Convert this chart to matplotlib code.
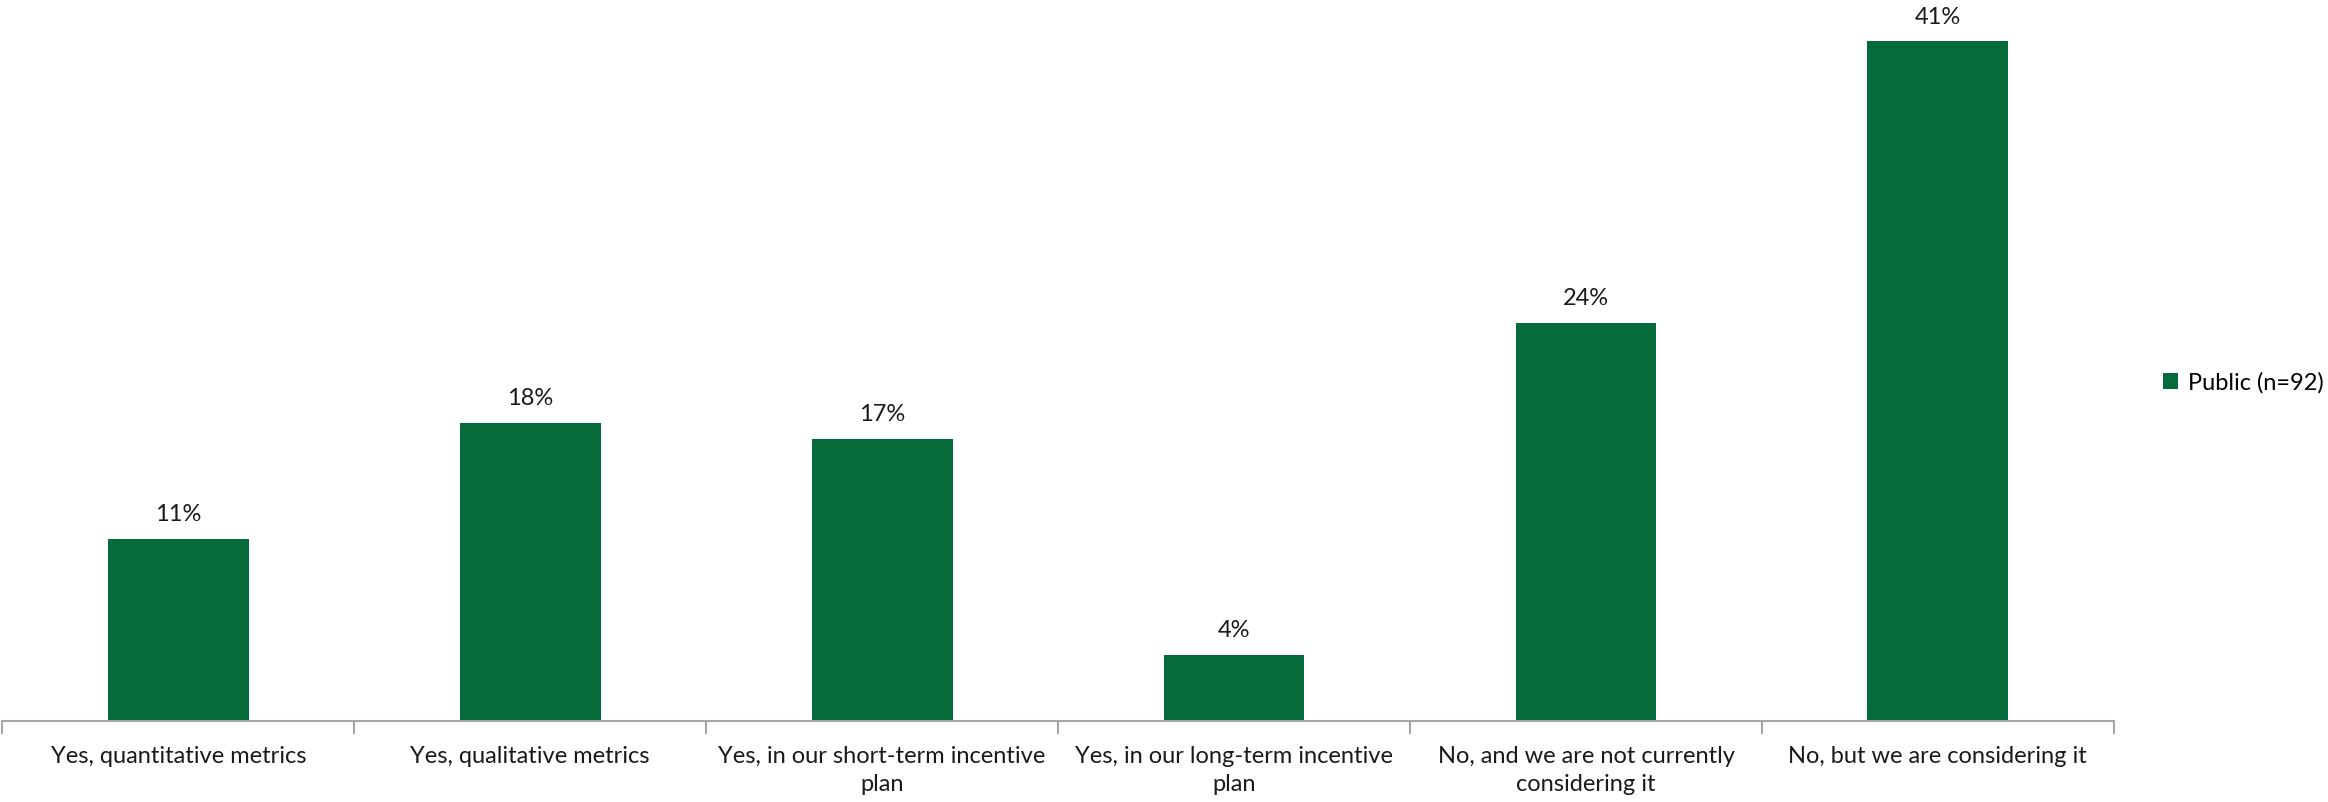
import matplotlib.pyplot as plt
import numpy as np

plt.rcParams['font.family'] = ['Lato', 'DejaVu Sans']

# survey answers and share of public companies
categories = [
    "Yes, quantitative metrics",
    "Yes, qualitative metrics",
    "Yes, in our short-term incentive\nplan",
    "Yes, in our long-term incentive\nplan",
    "No, and we are not currently\nconsidering it",
    "No, but we are considering it",
]
public_pct = [11, 18, 17, 4, 24, 41]
series_name = "Public (n=92)"

green = "#066b3a"
gray = "#a6a6a6"

fig = plt.figure(figsize=(23.28, 8.02), dpi=100)
ax = fig.add_axes([0.001, 0.101, 0.907, 0.899])

x = np.arange(len(categories))
bars = ax.bar(x, public_pct, width=0.4, color=green, label=series_name)

for xi, v in zip(x, public_pct):
    ax.annotate(f"{v}%", (xi, v), xytext=(0, 10), textcoords="offset points",
                ha="center", va="bottom", fontsize=17, color="#1a1a1a",
                annotation_clip=False)

ax.set_xlim(-0.5, len(categories) - 0.5)
ax.set_ylim(0, 43.5)
ax.set_yticks([])

# category labels centred, tick marks between categories
ax.set_xticks(x)
ax.set_xticklabels(categories, fontsize=17, color="#1a1a1a", linespacing=1.4)
ax.tick_params(axis="x", which="major", length=0, pad=18)
ax.set_xticks(np.arange(-0.5, len(categories)), minor=True)
ax.tick_params(axis="x", which="minor", length=9, width=1.5, color=gray, direction="out")

for side in ["top", "right", "left"]:
    ax.spines[side].set_visible(False)
ax.spines["bottom"].set_color(gray)
ax.spines["bottom"].set_linewidth(1.5)

fig.legend(handles=[bars], labels=[series_name], loc="center left",
           bbox_to_anchor=(0.92, 0.523), frameon=False, fontsize=17,
           handlelength=0.65, handleheight=0.65, handletextpad=0.4)

fig.savefig("out.png", dpi=100, facecolor="white")
